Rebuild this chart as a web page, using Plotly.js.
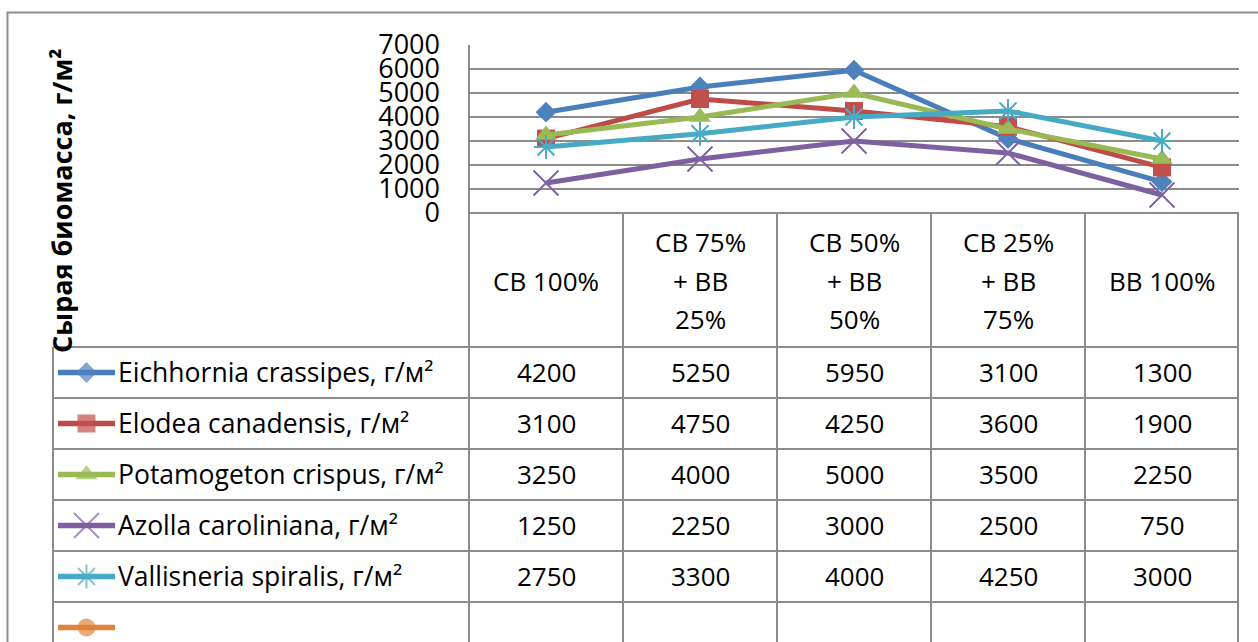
<!DOCTYPE html>
<html>
<head>
<meta charset="utf-8">
<script src="https://cdn.plot.ly/plotly-3.0.1.min.js"></script>
<style>
  html, body { margin: 0; padding: 0; background: #ffffff; }
  #chart { width: 1258px; height: 642px; }
</style>
</head>
<body>
<div id="chart"></div>
<script>
// Category labels, split into the lines shown in the table header
const categoryLines = [
  ['СВ 100%'],
  ['СВ 75%', '+ ВВ', '25%'],
  ['СВ 50%', '+ ВВ', '50%'],
  ['СВ 25%', '+ ВВ', '75%'],
  ['ВВ 100%']
];
const categories = categoryLines.map(l => l.join(' '));

// Series names and values (г/м²)
const seriesNames = [
  'Eichhornia crassipes, г/м²',
  'Elodea canadensis, г/м²',
  'Potamogeton crispus, г/м²',
  'Azolla caroliniana, г/м²',
  'Vallisneria spiralis, г/м²',
  ''
];
const eichhornia = [4200, 5250, 5950, 3100, 1300];
const elodea = [3100, 4750, 4250, 3600, 1900];
const potamogeton = [3250, 4000, 5000, 3500, 2250];
const azolla = [1250, 2250, 3000, 2500, 750];
const vallisneria = [2750, 3300, 4000, 4250, 3000];
const emptySeries = [null, null, null, null, null];
const seriesValues = [eichhornia, elodea, potamogeton, azolla, vallisneria, emptySeries];

const yTicks = [0, 1000, 2000, 3000, 4000, 5000, 6000, 7000];
const yTitle = 'Сырая биомасса, г/м²';

// Styles
const lineColors = ['#4A7EBB', '#BE4B48', '#98B954', '#7D60A0', '#46AAC5', '#E0843C'];
const markerColors = ['#4F81BD', '#C0504D', '#9BBB59', '#8064A2', '#4BACC6', '#E0843C'];
const symbols = ['diamond', 'square', 'triangle-up', 'x-thin', 'asterisk', 'circle'];
const markerSizes = [16, 18, 19, 25, 20, 18];
const openSymbol = s => s === 'x-thin' || s === 'asterisk';

const FONT = 'Open Sans, Noto Sans, sans-serif';
const GRID = '#8c8c8c';

// Page geometry in pixels
const W = 1258, H = 642;
const PLOT_L = 469, PLOT_R = 1239, PLOT_T = 45, PLOT_B = 213;
const TABLE_L = 53, HEAD_B = 347, ROW_H = 51;
const px = x => x / W;
const py = y => 1 - y / H;

const traces = [];
seriesValues.forEach((vals, i) => {
  const sym = symbols[i];
  traces.push({
    type: 'scatter', mode: 'lines+markers',
    x: categories, y: vals, name: seriesNames[i],
    xaxis: 'x', yaxis: 'y',
    line: { color: lineColors[i], width: 5 },
    marker: {
      symbol: sym, size: markerSizes[i], color: markerColors[i],
      line: { color: markerColors[i], width: openSymbol(sym) ? 2 : 0 }
    },
    showlegend: false, hoverinfo: 'skip', cliponaxis: false
  });
  // Legend key inside the data table (row i)
  traces.push({
    type: 'scatter', mode: 'lines+markers',
    x: [0, 0.5, 1], y: [i, i, i],
    xaxis: 'x2', yaxis: 'y2',
    line: { color: lineColors[i], width: 5.5 },
    marker: {
      symbol: sym, size: [0, markerSizes[i], 0], color: markerColors[i],
      line: { color: markerColors[i], width: openSymbol(sym) ? 2 : 0 }
    },
    showlegend: false, hoverinfo: 'skip', cliponaxis: false
  });
});

const shapes = [];
const lineStyle = { color: GRID, width: 2 };
// outer chart frame
shapes.push({ type: 'rect', xref: 'paper', yref: 'paper', x0: px(7.5), x1: px(W + 20), y0: py(12.5), y1: py(H + 20), line: { color: '#8e8e8e', width: 2 } });
// left edge of plot area down through the header row
shapes.push({ type: 'line', xref: 'paper', yref: 'paper', x0: px(PLOT_L), x1: px(PLOT_L), y0: py(PLOT_T), y1: py(H + 10), line: lineStyle });
// right edge of the table
shapes.push({ type: 'line', xref: 'paper', yref: 'paper', x0: px(PLOT_R - 1), x1: px(PLOT_R - 1), y0: py(PLOT_B), y1: py(H + 10), line: lineStyle });
// legend column left edge
shapes.push({ type: 'line', xref: 'paper', yref: 'paper', x0: px(TABLE_L), x1: px(TABLE_L), y0: py(HEAD_B), y1: py(H + 10), line: lineStyle });
// column boundaries between categories
for (let k = 0; k < categories.length - 1; k++) {
  shapes.push({ type: 'line', xref: 'x', yref: 'paper', x0: k + 0.5, x1: k + 0.5, y0: py(PLOT_B), y1: py(H + 10), line: lineStyle });
}
// row boundaries
for (let r = 0; r <= seriesNames.length; r++) {
  const y = HEAD_B + r * ROW_H;
  shapes.push({ type: 'line', xref: 'paper', yref: 'paper', x0: px(TABLE_L), x1: px(PLOT_R - 1), y0: py(y), y1: py(y), line: lineStyle });
}

const annotations = [];
// y-axis title
annotations.push({
  xref: 'paper', yref: 'paper', x: px(61), y: py(201), text: yTitle, textangle: -90,
  showarrow: false, xanchor: 'center', yanchor: 'middle',
  font: { family: FONT, size: 27, color: '#000', weight: 'bold' }
});
// header cells
categoryLines.forEach((lines, c) => {
  const n = lines.length;
  lines.forEach((t, j) => {
    annotations.push({
      xref: 'x', yref: 'paper', x: categories[c], y: py(280.5 + (j - (n - 1) / 2) * 38.5),
      text: t, showarrow: false, xanchor: 'center', yanchor: 'middle',
      font: { family: FONT, size: 26, color: '#000' }
    });
  });
});
// series rows: name and values
seriesNames.forEach((name, i) => {
  const yc = HEAD_B + ROW_H * (i + 0.5) - 1;
  if (name) {
    annotations.push({
      xref: 'paper', yref: 'paper', x: px(116), y: py(yc), text: name,
      showarrow: false, xanchor: 'left', yanchor: 'middle',
      font: { family: FONT, size: 26.5, color: '#000' }
    });
  }
  seriesValues[i].forEach((v, c) => {
    if (v === null) return;
    annotations.push({
      xref: 'x', yref: 'paper', x: categories[c], y: py(yc), text: String(v),
      showarrow: false, xanchor: 'center', yanchor: 'middle',
      font: { family: FONT, size: 26, color: '#000' }
    });
  });
});

const rowsVisible = (H - HEAD_B) / ROW_H;

const layout = {
  width: W, height: H,
  margin: { l: 0, r: 0, t: 0, b: 0 },
  paper_bgcolor: '#ffffff', plot_bgcolor: 'rgba(0,0,0,0)',
  showlegend: false,
  xaxis: {
    domain: [px(PLOT_L), px(PLOT_R)], type: 'category', categoryarray: categories,
    range: [-0.5, categories.length - 0.5],
    showgrid: false, zeroline: false, showline: false, showticklabels: false, ticks: '', fixedrange: true
  },
  yaxis: {
    domain: [py(PLOT_B), py(PLOT_T)], range: [0, 7000],
    tickvals: yTicks, ticktext: yTicks.map(String),
    showgrid: true, gridcolor: GRID, gridwidth: 2,
    zeroline: true, zerolinecolor: GRID, zerolinewidth: 2,
    showline: false, ticks: '', ticklabelstandoff: 28,
    tickfont: { family: FONT, size: 27, color: '#000' }, fixedrange: true
  },
  xaxis2: {
    domain: [px(58), px(115)], range: [0, 1], anchor: 'y2',
    visible: false, fixedrange: true
  },
  yaxis2: {
    domain: [0, py(HEAD_B)], range: [rowsVisible - 0.5, -0.5], anchor: 'x2',
    visible: false, fixedrange: true
  },
  shapes: shapes,
  annotations: annotations
};

Plotly.newPlot('chart', traces, layout, { staticPlot: true, displayModeBar: false });
</script>
</body>
</html>
